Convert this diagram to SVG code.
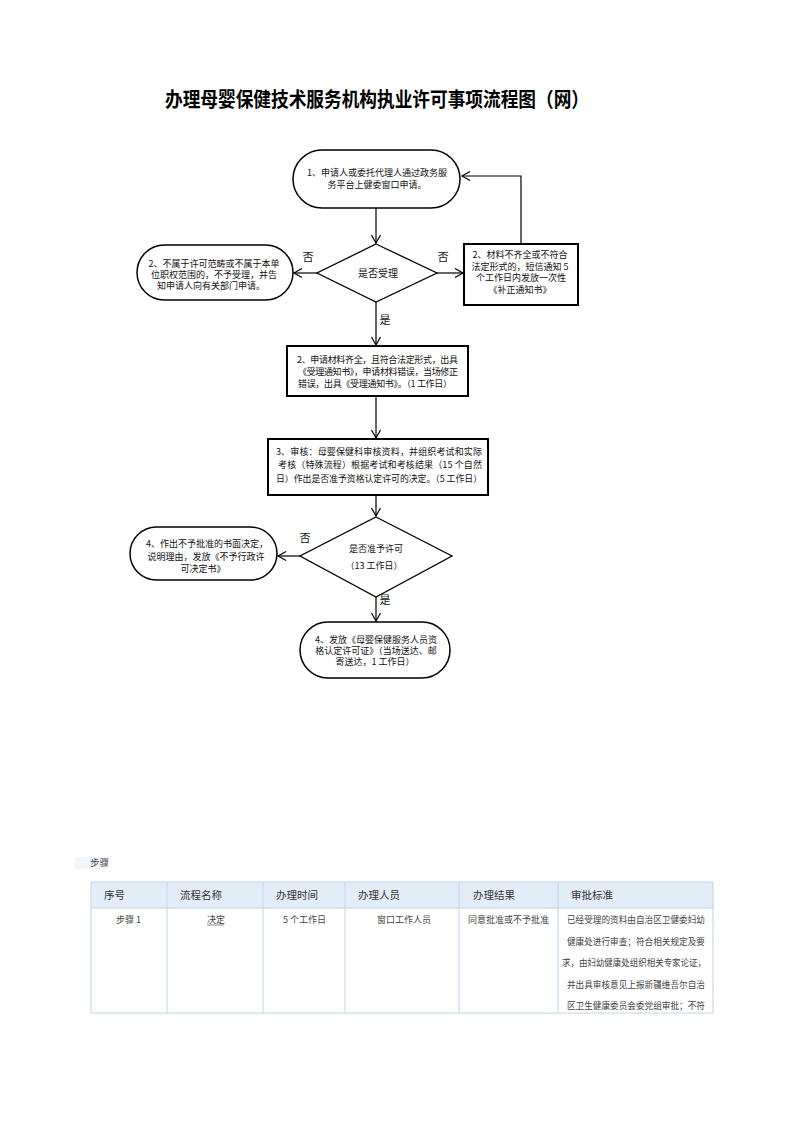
<svg xmlns="http://www.w3.org/2000/svg" width="793" height="1122" viewBox="0 0 793 1122">
<defs>
<marker id="arr" markerUnits="userSpaceOnUse" markerWidth="12" markerHeight="12" viewBox="-10 -6 12 12" refX="0" refY="0" orient="auto">
<path d="M-8,-4.5 L0,0 L-8,4.5" fill="none" stroke="#000" stroke-width="1.2"/>
</marker>
<style>
.t{font-family:"Noto Sans CJK SC","Liberation Sans",sans-serif;font-size:9px;fill:#111}
.c{text-anchor:middle}
.term{fill:#fff;stroke:#000;stroke-width:1.5}
.box{fill:#fff;stroke:#000;stroke-width:2}
.dia{fill:#fff;stroke:#000;stroke-width:1.3}
.ln{fill:none;stroke:#000;stroke-width:1.2}
.lab{font-family:"Noto Sans CJK SC","Liberation Serif",serif;font-size:11px;fill:#111;text-anchor:middle}
.th{font-family:"Noto Sans CJK SC","Liberation Sans",sans-serif;font-size:10.5px;fill:#333}
.td{font-family:"Noto Sans CJK SC","Liberation Sans",sans-serif;font-size:9px;fill:#444}
.grid{stroke:#bcd5ee;stroke-width:1;fill:none}
</style>
</defs>
<rect width="793" height="1122" fill="#fff"/>
<text x="377" y="107" font-family="'Noto Sans CJK SC',serif" font-size="20" font-weight="bold" text-anchor="middle" fill="#000" textLength="424" lengthAdjust="spacingAndGlyphs">办理母婴保健技术服务机构执业许可事项流程图（网）</text>

<g id="connectors">
<path class="ln" d="M376,208 V243" marker-end="url(#arr)"/>
<path class="ln" d="M437,273 H463" marker-end="url(#arr)"/>
<path class="ln" d="M521,244 V176 H462" marker-end="url(#arr)"/>
<path class="ln" d="M317,273 H294" marker-end="url(#arr)"/>
<path class="ln" d="M376,302 V345" marker-end="url(#arr)"/>
<path class="ln" d="M376,396 V438" marker-end="url(#arr)"/>
<path class="ln" d="M376,495 V516" marker-end="url(#arr)"/>
<path class="ln" d="M300,556 H278" marker-end="url(#arr)"/>
<path class="ln" d="M376,597 V621" marker-end="url(#arr)"/>
<text class="lab" x="308" y="261">否</text>
<text class="lab" x="443" y="261">否</text>
<text class="lab" x="385" y="324">是</text>
<text class="lab" x="305" y="542">否</text>
<text class="lab" x="385" y="604">是</text>
</g>

<g id="n1">
<rect class="term" x="293" y="150" width="167" height="58" rx="29"/>
<text class="t c" x="377" y="176">1、申请人或委托代理人通过政务服</text>
<text class="t c" x="377" y="188">务平台上健委窗口申请。</text>
</g>

<g id="d1">
<polygon class="dia" points="376,244 437,273 376,302 317,273"/>
<text class="t c" x="378" y="277" style="font-size:10px">是否受理</text>
</g>

<g id="n_left1">
<rect class="term" x="137" y="245" width="156" height="55" rx="27.5"/>
<text class="t c" x="214" y="267">2、不属于许可范畴或不属于本单</text>
<text class="t c" x="214" y="278">位职权范围的，不予受理，并告</text>
<text class="t c" x="211" y="289">知申请人向有关部门申请。</text>
</g>

<g id="n_right1">
<rect class="box" x="464" y="244" width="114" height="61"/>
<text class="t c" x="520" y="258">2、材料不齐全或不符合</text>
<text class="t c" x="520" y="270">法定形式的，短信通知 5</text>
<text class="t c" x="521" y="281">个工作日内发放一次性</text>
<text class="t c" x="520" y="293">《补正通知书》</text>
</g>

<g id="n2">
<rect class="box" x="287" y="346" width="181" height="50"/>
<text class="t" x="297" y="363" textLength="161" lengthAdjust="spacing">2、申请材料齐全，且符合法定形式，出具</text>
<text class="t" x="298" y="375" textLength="160" lengthAdjust="spacing">《受理通知书》，申请材料错误，当场修正</text>
<text class="t" x="298" y="387" textLength="154" lengthAdjust="spacing">错误，出具《受理通知书》。（1 工作日）</text>
</g>

<g id="n3">
<rect class="box" x="268" y="439" width="220" height="56"/>
<text class="t" x="276" y="455" textLength="206" lengthAdjust="spacing">3、审核：母婴保健科审核资料，并组织考试和实际</text>
<text class="t" x="278" y="468" textLength="204" lengthAdjust="spacing">考核（特殊流程）根据考试和考核结果（15 个自然</text>
<text class="t" x="276" y="482" textLength="206" lengthAdjust="spacingAndGlyphs">日）作出是否准予资格认定许可的决定。（5 工作日）</text>
</g>

<g id="d2">
<polygon class="dia" points="376,517 452,556 376,597 300,556"/>
<text class="t c" x="376" y="552">是否准予许可</text>
<text class="t c" x="374" y="569">（13 工作日）</text>
</g>

<g id="n_left2">
<rect class="term" x="130" y="527" width="147" height="53" rx="26.5"/>
<text class="t c" x="207" y="547">4、作出不予批准的书面决定，</text>
<text class="t c" x="206" y="560">说明理由，发放《不予行政许</text>
<text class="t c" x="203" y="572">可决定书》</text>
</g>

<g id="n_end">
<rect class="term" x="300" y="622" width="150" height="56" rx="28"/>
<text class="t c" x="376" y="643">4、发放《母婴保健服务人员资</text>
<text class="t c" x="376" y="654">格认定许可证》（当场送达、邮</text>
<text class="t c" x="375" y="665">寄送达，1 工作日）</text>
</g>

<g id="table">
<rect x="75" y="857" width="33" height="12" fill="#f1f6fb"/>
<text class="td" x="90" y="866" style="font-size:9.5px">步骤</text>
<rect x="91" y="882" width="622" height="26" fill="#e2edf8"/>
<rect class="grid" x="91" y="882" width="622" height="131"/>
<line class="grid" x1="91" y1="908" x2="713" y2="908"/>
<line class="grid" x1="167" y1="882" x2="167" y2="1013"/>
<line class="grid" x1="263" y1="882" x2="263" y2="1013"/>
<line class="grid" x1="345" y1="882" x2="345" y2="1013"/>
<line class="grid" x1="459" y1="882" x2="459" y2="1013"/>
<line class="grid" x1="558" y1="882" x2="558" y2="1013"/>
<text class="th" x="104" y="899">序号</text>
<text class="th" x="180" y="899">流程名称</text>
<text class="th" x="276" y="899">办理时间</text>
<text class="th" x="358" y="899">办理人员</text>
<text class="th" x="473" y="899">办理结果</text>
<text class="th" x="571" y="899">审批标准</text>
<text class="td" x="116" y="923">步骤 1</text>
<text class="td" x="207" y="923">决定</text>
<line x1="207" y1="925" x2="224" y2="925" stroke="#555" stroke-width="0.7"/>
<text class="td" x="283" y="923">5 个工作日</text>
<text class="td" x="377" y="923">窗口工作人员</text>
<text class="td" x="468" y="923">同意批准或不予批准</text>
<text class="td" x="567" y="923" textLength="138" lengthAdjust="spacingAndGlyphs">已经受理的资料由自治区卫健委妇幼</text>
<text class="td" x="567" y="945" textLength="138" lengthAdjust="spacingAndGlyphs">健康处进行审查；符合相关规定及要</text>
<text class="td" x="562" y="966" textLength="144" lengthAdjust="spacingAndGlyphs">求，由妇幼健康处组织相关专家论证，</text>
<text class="td" x="567" y="988" textLength="138" lengthAdjust="spacingAndGlyphs">并出具审核意见上报新疆维吾尔自治</text>
<text class="td" x="567" y="1009" textLength="138" lengthAdjust="spacingAndGlyphs">区卫生健康委员会委党组审批；不符</text>
</g>
</svg>
